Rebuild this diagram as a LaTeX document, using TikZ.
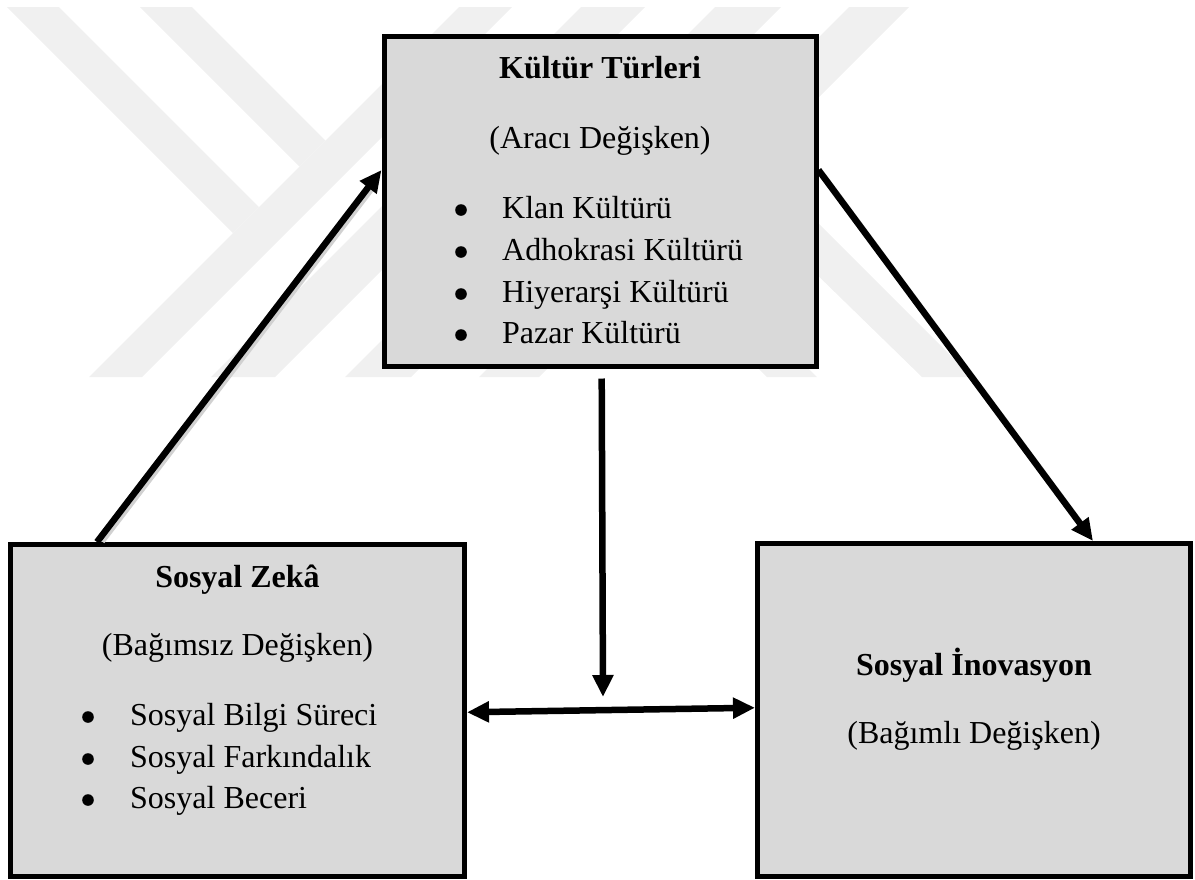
\documentclass[tikz,border=0pt]{standalone}
\usepackage{fontspec}
\setmainfont{Liberation Serif}
\usetikzlibrary{arrows.meta}

\begin{document}
\begin{tikzpicture}[
  x=1pt, y=-1pt,
  every node/.style={font=\fontsize{32}{38}\selectfont, inner sep=0pt},
  band/.style={fill=black!6, draw=none},
  panel/.style={rectangle, draw=black, line width=5pt, fill=black!15},
  title/.style={anchor=base, font=\fontsize{32}{38}\selectfont\bfseries},
  role/.style={anchor=base},
  item/.style={anchor=base west},
  dot/.style={fill=black},
  link/.style={line width=6.5pt, -{Triangle[length=22pt,width=20pt]}},
  twolink/.style={line width=6.5pt, {Triangle[length=22pt,width=20pt]}-{Triangle[length=22pt,width=20pt]}},
  linkshade/.style={line width=6pt, draw=black!18, shorten >=20pt, shorten <=4pt,
                    transform canvas={xshift=2.5pt,yshift=-2.5pt}}
]
\useasboundingbox (0,0) rectangle (1195,879);

% faint striped emblem in the background
\begin{scope}
  \clip (0,7) rectangle (1195,377);
  \fill[band] (459,7) -- (512,7) -- (142,377) -- (89,377) -- cycle;
  \fill[band] (581,7) -- (645,7) -- (275,377) -- (211,377) -- cycle;
  \fill[band] (715,7) -- (781,7) -- (411,377) -- (345,377) -- cycle;
  \fill[band] (849,7) -- (909,7) -- (539,377) -- (479,377) -- cycle;
  \fill[band] (7,7) -- (59,7) -- (259,207) -- (233,233) -- cycle;
  \fill[band] (140,7) -- (192,7) -- (325.5,140.5) -- (299.5,166.5) -- cycle;
  \fill[band] (589,199) -- (614,174) -- (817,377) -- (767,377) -- cycle;
  \fill[band] (728,188) -- (755.5,160.5) -- (972,377) -- (922,377) -- cycle;
\end{scope}

% the three boxes
\node[panel, minimum width=432pt, minimum height=330pt] (kt) at (600,201) {};
\node[panel, minimum width=454pt, minimum height=331.5pt] (sz) at (237.5,710.25) {};
\node[panel, minimum width=433pt, minimum height=332.5pt] (si) at (974,709.75) {};

% mediator: culture types
\node[title] (ktName) at (600,78) {Kültür Türleri};
\node[role] (ktRole) at (600,148) {(Aracı Değişken)};
\node[item] (kt1) at (502,218) {Klan Kültürü};
\node[item] (kt2) at (502,260) {Adhokrasi Kültürü};
\node[item] (kt3) at (502,302) {Hiyerarşi Kültürü};
\node[item] (kt4) at (502,343) {Pazar Kültürü};
\foreach \yy in {210,252,294,335} \fill[dot] (461,\yy) circle (5.8pt);

% independent: social intelligence
\node[title] (szName) at (237.5,587) {Sosyal Zekâ};
\node[role] (szRole) at (237.5,655) {(Bağımsız Değişken)};
\node[item] (sz1) at (130,725) {Sosyal Bilgi Süreci};
\node[item] (sz2) at (130,767) {Sosyal Farkındalık};
\node[item] (sz3) at (130,808) {Sosyal Beceri};
\foreach \yy in {717,759,800} \fill[dot] (88,\yy) circle (5.8pt);

% dependent: social innovation
\node[title] (siName) at (974,675) {Sosyal İnovasyon};
\node[role] (siRole) at (974,743) {(Bağımlı Değişken)};

% connectors (the slanted ones carry a soft shadow)
\coordinate (meet) at (603,697);
\draw[linkshade] ([xshift=89pt]sz.north west) -- ([yshift=31pt]kt.west);
\draw[linkshade] ([yshift=31pt]kt.east) -- ([xshift=338pt]si.north west);
\draw[link] ([xshift=89pt]sz.north west) -- ([yshift=31pt]kt.west);
\draw[link] ([yshift=31pt]kt.east) -- ([xshift=338pt]si.north west);
\draw[link] ([xshift=1.7pt,yshift=-10pt]kt.south) -- (meet);
\draw[twolink] ([yshift=-2pt]sz.east) -- ([yshift=2pt]si.west);
\end{tikzpicture}
\end{document}
